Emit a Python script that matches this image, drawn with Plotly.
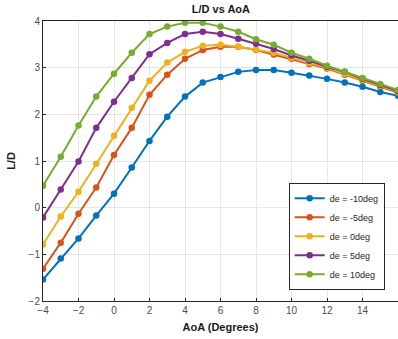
import plotly.graph_objects as go

aoa = list(range(-4, 17))
ld_m10 = [-1.54, -1.09, -0.66, -0.17, 0.30, 0.86, 1.43, 1.95, 2.38, 2.68, 2.80, 2.91, 2.95, 2.95, 2.89, 2.83, 2.76, 2.68, 2.59, 2.48, 2.40]
ld_m5 = [-1.31, -0.75, -0.13, 0.43, 1.13, 1.71, 2.42, 2.85, 3.19, 3.38, 3.45, 3.45, 3.38, 3.28, 3.19, 3.08, 2.98, 2.85, 2.72, 2.59, 2.46]
ld_0 = [-0.79, -0.19, 0.34, 0.94, 1.54, 2.14, 2.72, 3.11, 3.34, 3.47, 3.49, 3.45, 3.38, 3.32, 3.21, 3.10, 3.00, 2.87, 2.74, 2.61, 2.48]
ld_5 = [-0.21, 0.39, 0.99, 1.71, 2.27, 2.78, 3.29, 3.53, 3.72, 3.77, 3.72, 3.62, 3.51, 3.40, 3.26, 3.15, 3.02, 2.91, 2.76, 2.63, 2.50]
ld_10 = [0.47, 1.09, 1.76, 2.38, 2.87, 3.32, 3.72, 3.88, 3.96, 3.96, 3.88, 3.77, 3.61, 3.49, 3.32, 3.19, 3.04, 2.91, 2.78, 2.65, 2.52]

names = ["de = -10deg", "de = -5deg", "de = 0deg", "de = 5deg", "de = 10deg"]
series = [ld_m10, ld_m5, ld_0, ld_5, ld_10]
colors = ["#0072BD", "#D95319", "#EDB120", "#7E2F8E", "#77AC30"]

fig = go.Figure()
for n, s, c in zip(names, series, colors):
    fig.add_trace(go.Scatter(x=aoa, y=s, name=n, mode="lines+markers",
                             line=dict(color=c, width=2),
                             marker=dict(color=c, size=6.5, symbol="circle")))

axis_common = dict(showline=True, mirror=True, linecolor="#262626", linewidth=1,
                   ticks="inside", ticklen=3, tickcolor="#262626",
                   showgrid=True, gridcolor="#e6e6e6", gridwidth=1, zeroline=False,
                   tickfont=dict(family="Arial, Liberation Sans", size=10, color="#4d4d4d"))

fig.update_layout(
    width=398, height=339,
    margin=dict(l=43, r=0, t=21, b=38),
    paper_bgcolor="white", plot_bgcolor="white",
    title=dict(text="<b>L/D vs AoA</b>", x=0.555, xanchor="center", y=0.972, yanchor="middle",
               font=dict(family="Arial, Liberation Sans", size=11, color="#1a1a1a")),
    xaxis=dict(range=[-4, 16], tickvals=list(range(-4, 17, 2)),
               title=dict(text="<b>AoA (Degrees)</b>", standoff=8,
                          font=dict(family="Arial, Liberation Sans", size=11, color="#1a1a1a")),
               **axis_common),
    yaxis=dict(range=[-2, 4], tickvals=[-2, -1, 0, 1, 2, 3, 4],
               title=dict(text="<b>L/D</b>", standoff=10,
                          font=dict(family="Arial, Liberation Sans", size=11, color="#1a1a1a")),
               **axis_common),
    legend=dict(x=0.692, y=0.04, xanchor="left", yanchor="bottom",
                bgcolor="white", bordercolor="#262626", borderwidth=1,
                font=dict(family="Arial, Liberation Sans", size=9, color="#262626"),
                itemwidth=30, tracegroupgap=0, tracegroupgap_=None) if False else
           dict(x=0.692, y=0.04, xanchor="left", yanchor="bottom",
                bgcolor="white", bordercolor="#262626", borderwidth=1,
                font=dict(family="Arial, Liberation Sans", size=9, color="#262626"),
                itemwidth=30, tracegroupgap=0),
    showlegend=True,
)

fig.write_html("out.html")
